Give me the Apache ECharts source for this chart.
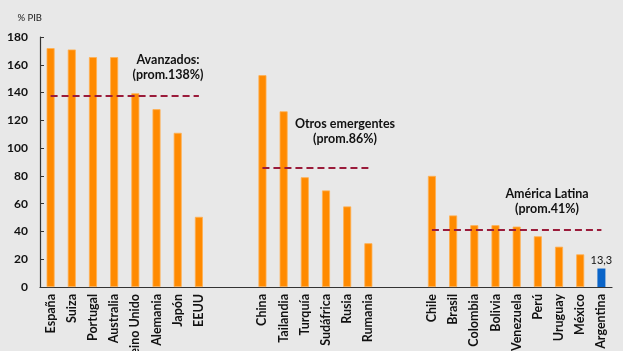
<!DOCTYPE html>
<html><head><meta charset="utf-8">
<script src="https://cdn.jsdelivr.net/npm/echarts@6/dist/echarts.min.js"></script>
<style>html,body{margin:0;padding:0;background:#e8e8e8}#c{width:623px;height:351px}</style>
</head><body><div id="c"></div>
<script>
const avanzados = ['España','Suiza','Portugal','Australia','Reino Unido','Alemania','Japón','EEUU'];
const avanzadosVal = [172, 171, 165.5, 165.5, 139.5, 128, 111, 50.5];
const emergentes = ['China','Tailandia','Turquía','Sudáfrica','Rusia','Rumania'];
const emergentesVal = [152.5, 126.5, 79, 69.5, 58, 31.5];
const latam = ['Chile','Brasil','Colombia','Bolivia','Venezuela','Perú','Uruguay','México','Argentina'];
const latamVal = [80, 51.5, 44.5, 44.5, 43.5, 36.5, 29, 23.5, 13.3];
const promedios = [138, 86, 41];
const notas = [['Avanzados:', '(prom.138%)'], ['Otros emergentes', '(prom.86%)'], ['América Latina', '(prom.41%)']];
const yTicks = [0, 20, 40, 60, 80, 100, 120, 140, 160, 180];

const categories = [...avanzados, ' 1', ' 2', ...emergentes, ' 3', ' 4', ...latam];
const ORANGE = '#ff8a00', BLUE = '#0a64c8', AVG = '#9a1b3a';

const values = [...avanzadosVal, null, null, ...emergentesVal, null, null, ...latamVal];
const barData = values.map((v, i) => {
  if (v === null) return '-';
  const isArg = categories[i] === 'Argentina';
  return {
    value: v,
    itemStyle: { color: isArg ? BLUE : ORANGE, borderColor: isArg ? BLUE : '#ffb050', borderWidth: isArg ? 0 : 0.8 },
    label: isArg ? { show: true, position: 'top', formatter: '13,3', color: '#111', fontSize: 11, fontFamily: 'Lato, "DejaVu Sans", sans-serif', distance: 3 } : { show: false }
  };
});

const groups = [avanzados, emergentes, latam];
function avgLine(g, i) {
  return [{ coord: [g[0], promedios[i]] }, { coord: [g[g.length - 1], promedios[i]] }];
}

const chart = echarts.init(document.getElementById('c'), null, { renderer: 'canvas' });
const fontB = 'Lato, "DejaVu Sans", sans-serif';
const noteFont = 'bold 12.5px ' + fontB;
chart.setOption({
  backgroundColor: '#e8e8e8',
  animation: false,
  grid: { left: 40, right: 11, top: 37, bottom: 64, containLabel: false, outerBoundsMode: 'none' },
  xAxis: {
    type: 'category', data: categories,
    axisLine: { lineStyle: { color: '#333', width: 1.2 } },
    axisTick: { show: false },
    axisLabel: {
      interval: 0, rotate: 90, margin: 7, color: '#111', fontWeight: 'bold', fontSize: 12.5, fontFamily: fontB,
      formatter: v => v.trim().length <= 1 ? '' : v
    }
  },
  yAxis: {
    type: 'value', min: 0, max: 180, interval: 20,
    name: '% PIB', nameLocation: 'end', nameGap: 14,
    nameTextStyle: { color: '#222', fontSize: 9.5, fontFamily: fontB, align: 'right', padding: [0, -2, 0, 0] },
    axisLine: { show: true, lineStyle: { color: '#333', width: 1.2 } },
    axisTick: { show: true, inside: true, length: 4, lineStyle: { color: '#333' } },
    splitLine: { show: false },
    axisLabel: { color: '#111', fontWeight: 'bold', fontSize: 12, fontFamily: fontB, margin: 12,
      formatter: v => yTicks.includes(v) ? String(v) : '' }
  },
  series: [{
    type: 'bar', data: barData, barWidth: 8,
    markLine: {
      silent: true, symbol: 'none',
      lineStyle: { color: AVG, type: [7, 4], width: 2 },
      label: { show: false },
      data: groups.map(avgLine)
    }
  }],
  graphic: [
    { type: 'text', x: 168, y: 52, style: { text: notas[0].join('\n'), fill: '#111', font: noteFont, align: 'center', lineHeight: 15 } },
    { type: 'text', x: 345, y: 116, style: { text: notas[1].join('\n'), fill: '#111', font: noteFont, align: 'center', lineHeight: 15 } },
    { type: 'text', x: 547, y: 186, style: { text: notas[2].join('\n'), fill: '#111', font: noteFont, align: 'center', lineHeight: 15 } }
  ]
});
</script></body></html>
